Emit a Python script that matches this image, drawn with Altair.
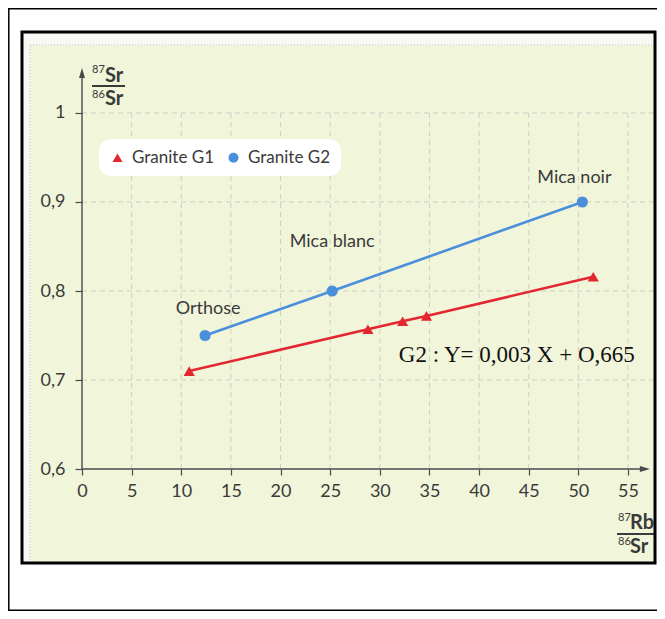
import altair as alt
import pandas as pd

# ---------------- data ----------------
series_names = ["Granite G1", "Granite G2"]
series_colors = ["#e3262f", "#4a8fdb"]
series_shapes = ["triangle-up", "circle"]

g1_x = [10.8, 28.8, 32.3, 34.7, 51.5]
g1_y = [0.710, 0.757, 0.766, 0.772, 0.816]

g2_x = [12.4, 25.2, 50.4]
g2_y = [0.750, 0.800, 0.900]
g2_minerals = ["Orthose", "Mica blanc", "Mica noir"]
mineral_label_x = [12.7, 25.2, 49.6]
mineral_label_y = [0.774, 0.849, 0.921]

x_ticks = [0, 5, 10, 15, 20, 25, 30, 35, 40, 45, 50, 55]
y_ticks = [0.6, 0.7, 0.8, 0.9, 1.0]

equation_text = "G2 : Y= 0,003 X + O,665"
equation_x = [43.8]
equation_y = [0.720]

x_domain = [-6.044, 57.82]
y_domain = [0.4944, 1.0910]
x_axis_end = 56.7
y_axis_end = 1.045

# ---------------- tables ----------------
pts = pd.DataFrame(
    {"x": g1_x + g2_x, "y": g1_y + g2_y,
     "serie": [series_names[0]] * len(g1_x) + [series_names[1]] * len(g2_x)}
)
labels_df = pd.DataFrame({"x": mineral_label_x, "y": mineral_label_y, "t": g2_minerals})
vgrid = pd.DataFrame({"x": x_ticks[1:], "y": [y_ticks[0]] * (len(x_ticks) - 1),
                      "y2": [y_ticks[-1]] * (len(x_ticks) - 1)})
hgrid = pd.DataFrame({"y": y_ticks[1:], "x": [0] * (len(y_ticks) - 1),
                      "x2": [x_domain[1]] * (len(y_ticks) - 1)})
axes_df = pd.DataFrame({"x": [0, 0], "x2": [0, x_axis_end],
                        "y": [y_ticks[0], y_ticks[0]], "y2": [y_axis_end, y_ticks[0]]})
y_arrow_df = pd.DataFrame({"x": [0], "y": [y_axis_end]})
x_arrow_df = pd.DataFrame({"x": [x_axis_end], "y": [y_ticks[0]]})
eq_df = pd.DataFrame({"x": equation_x, "y": equation_y, "t": [equation_text]})

FONT = "Lato"
TXT = "#3a3a3a"
AX = "#4a4a4a"

xs = alt.Scale(domain=x_domain, nice=False, zero=False)
ys = alt.Scale(domain=y_domain, nice=False, zero=False)

x_axis = alt.Axis(values=x_ticks, offset=-94, domain=False, grid=False, tickSize=6,
                  tickColor=AX, tickWidth=1.2, labelFont=FONT, labelFontSize=18,
                  labelColor=TXT, labelPadding=7, title=None, zindex=1,
                  labelFlush=False)
y_axis = alt.Axis(values=y_ticks, offset=-60, domain=False, grid=False, tickSize=7,
                  tickColor=AX, tickWidth=1.2, labelFont=FONT, labelFontSize=18,
                  labelColor=TXT, labelPadding=10, title=None, zindex=1,
                  labelFlush=False,
                  labelExpr="datum.value == 1 ? '1' : replace(format(datum.value, '.1f'), '.', ',')")

X = alt.X("x:Q", scale=xs, axis=x_axis)
Y = alt.Y("y:Q", scale=ys, axis=y_axis)

one = alt.Data(values=[{}])

# decorative backgrounds (pixel positions)
yellow = alt.Chart(one).mark_rect(fill="#f1f5da", stroke="#c9c9c0", strokeDash=[1, 2],
                                  strokeWidth=1).encode(
    x=alt.value(8), x2=alt.value(634), y=alt.value(13), y2=alt.value(531))

vg = alt.Chart(vgrid).mark_rule(color="#cdcfc4", strokeDash=[5, 4], strokeWidth=1).encode(
    x=X, y=Y, y2="y2:Q")
hg = alt.Chart(hgrid).mark_rule(color="#cdcfc4", strokeDash=[5, 4], strokeWidth=1).encode(
    x=X, x2="x2:Q", y=Y)

axes_lines = alt.Chart(axes_df).mark_rule(color=AX, strokeWidth=1.4).encode(
    x=X, x2="x2:Q", y=Y, y2="y2:Q")
y_arrow = alt.Chart(y_arrow_df).mark_point(filled=True, color=AX, size=100, opacity=1,
                                           shape="M0,-1L0.6,1L-0.6,1Z").encode(x=X, y=Y)
x_arrow = alt.Chart(x_arrow_df).mark_point(filled=True, color=AX, size=100, opacity=1,
                                           shape="M1,0L-1,0.6L-1,-0.6Z").encode(x=X, y=Y)

line_g1 = alt.Chart(pts).transform_filter(alt.datum.serie == series_names[0]).mark_line(
    color=series_colors[0], strokeWidth=2.6).encode(x=X, y=Y)
line_g2 = alt.Chart(pts).transform_filter(alt.datum.serie == series_names[1]).mark_line(
    color=series_colors[1], strokeWidth=2.6).encode(x=X, y=Y)

legend = alt.Legend(orient="none", legendX=77, legendY=107, direction="horizontal",
                    fillColor="white", cornerRadius=12, padding=10, title=None,
                    labelFont=FONT, labelFontSize=17, labelColor=TXT, symbolSize=100,
                    symbolStrokeWidth=0, columnPadding=10, labelOffset=6)

points = alt.Chart(pts).mark_point(filled=True, size=125, opacity=1).encode(
    x=X, y=Y,
    color=alt.Color("serie:N", scale=alt.Scale(domain=series_names, range=series_colors),
                    legend=legend),
    shape=alt.Shape("serie:N", scale=alt.Scale(domain=series_names, range=series_shapes),
                    legend=legend),
)

mineral_text = alt.Chart(labels_df).mark_text(font=FONT, fontSize=18, color=TXT,
                                              align="center", baseline="alphabetic").encode(
    x=X, y=Y, text="t:N")

eq = alt.Chart(eq_df).mark_text(font="Liberation Serif", fontSize=23, color="#111",
                                align="center", baseline="alphabetic").encode(
    x=X, y=Y, text="t:N")


def txt(t, x, y, size, weight="normal"):
    return alt.Chart(one).mark_text(text=t, font=FONT, fontSize=size, fontWeight=weight,
                                    color=TXT, align="left", baseline="alphabetic").encode(
        x=alt.value(x), y=alt.value(y))


def bar(x1, x2, y):
    return alt.Chart(one).mark_rule(color=TXT, strokeWidth=2).encode(
        x=alt.value(x1), x2=alt.value(x2), y=alt.value(y))


y_title = [txt("87", 70, 41, 11), txt("Sr", 83, 50, 20, "bold"), bar(70, 103, 54),
           txt("86", 70, 66, 11), txt("Sr", 83, 73, 20, "bold")]
x_title = [txt("87", 596, 489, 11), txt("Rb", 608, 497, 20, "bold"), bar(595, 634, 502),
           txt("86", 596, 513, 11), txt("Sr", 608, 521, 20, "bold")]

frame = alt.Chart(one).mark_rect(fill=None, stroke="black", strokeWidth=3).encode(
    x=alt.value(0), x2=alt.value(633), y=alt.value(0), y2=alt.value(531))


def edge(x1, x2, y1, y2):
    return alt.Chart(one).mark_rule(color="black", strokeWidth=1.5).encode(
        x=alt.value(x1), x2=alt.value(x2), y=alt.value(y1), y2=alt.value(y2))


outer = [edge(-13.2, -13.2, -24, 579), edge(-14, 635, -23.2, -23.2),
         edge(-14, 635, 578.2, 578.2)]

chart = alt.layer(
    yellow, vg, hg, axes_lines, y_arrow, x_arrow, line_g1, line_g2, points, mineral_text, eq,
    *y_title, *x_title, frame, *outer
).properties(
    width=634, height=531,
    autosize=alt.AutoSizeParams(type="none"),
    padding={"left": 14, "top": 24, "right": 1, "bottom": 48},
    background="white",
).configure_view(stroke=None, fill="#f8f8f5")

chart.save("out.html", embed_options={"renderer": "svg", "actions": False})
